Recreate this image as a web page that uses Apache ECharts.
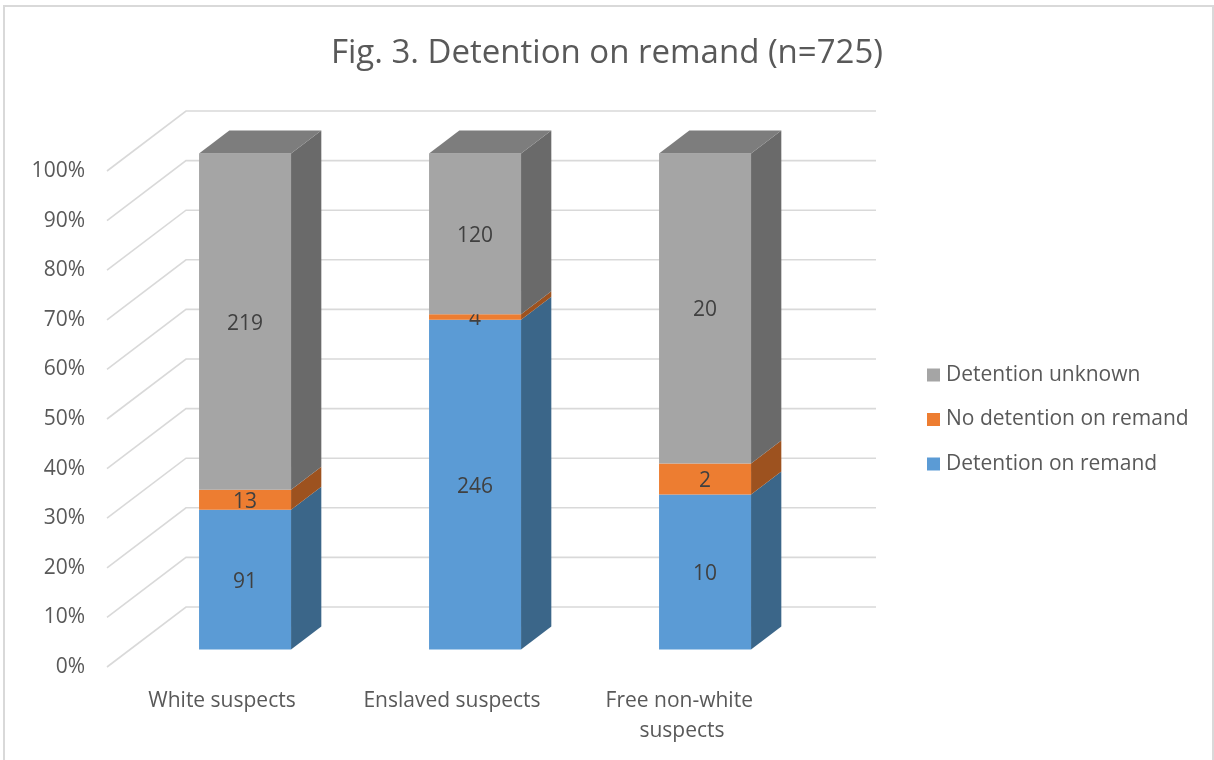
<!DOCTYPE html>
<html>
<head>
<meta charset="utf-8">
<title>Fig. 3. Detention on remand (n=725)</title>
<script src="https://cdn.jsdelivr.net/npm/echarts@6.0.0/dist/echarts.min.js"></script>
<style>
  html, body { margin: 0; padding: 0; background: #ffffff; }
  #chart { width: 1214px; height: 760px; }
</style>
</head>
<body>
<div id="chart"></div>
<script>
// ---- data ----
const categories = ['White suspects', 'Enslaved suspects', 'Free non-white suspects'];
const detained = [91, 246, 10];
const notDetained = [13, 4, 2];
const unknown = [219, 120, 20];
const yTicks = [0, 10, 20, 30, 40, 50, 60, 70, 80, 90, 100];

const seriesNames = ['Detention on remand', 'No detention on remand', 'Detention unknown'];
const seriesCounts = [detained, notDetained, unknown];

// front / side / top shades of each stack layer
const faceColors = [
  { front: '#5b9bd5', side: '#3b6689', top: '#4a7fae' },
  { front: '#ed7d31', side: '#9d521f', top: '#c26528' },
  { front: '#a5a5a5', side: '#6a6a6a', top: '#7d7d7d' }
];

const FONT = '"Open Sans", "Noto Sans", sans-serif';
const TEXT_GREY = '#595959';

// ---- pseudo-3D geometry (depth measured as upward pixel shift) ----
const WALL_DEPTH = 60;       // back wall sits this far behind the floor's front edge
const SLANT = 79 / 60;       // horizontal shift per pixel of depth
const BAR_FRONT = 17.5;      // depth of the columns' front faces
const BAR_BACK = 40.5;       // depth of the columns' back faces
const BAR_RATIO = 0.4;       // column width as a share of the category band

function shift(pt, d) {
  return [pt[0] + d * SLANT, pt[1] - d];
}

// cumulative percentage stacks
const totals = categories.map((_, i) => seriesCounts.reduce((s, arr) => s + arr[i], 0));
const stackData = seriesCounts.map((arr, k) =>
  arr.map((count, i) => {
    let lo = 0;
    for (let j = 0; j < k; j++) lo += seriesCounts[j][i];
    const hi = lo + count;
    return [i, lo / totals[i] * 100, hi / totals[i] * 100, count, k === seriesCounts.length - 1 ? 1 : 0];
  })
);

function makeSegmentRenderer(colors) {
  return function (params, api) {
    const cat = api.value(0);
    const lo = api.value(1);
    const hi = api.value(2);
    const count = api.value(3);
    const isTop = api.value(4);
    const band = api.size([1, 0])[0];
    const w = band * BAR_RATIO;
    const base = api.coord([cat, lo]);
    const peak = api.coord([cat, hi]);
    const xL = base[0] - w / 2 + BAR_FRONT * SLANT;
    const xR = xL + w;
    const yB = base[1] - BAR_FRONT;
    const yT = peak[1] - BAR_FRONT;
    const dd = BAR_BACK - BAR_FRONT;
    const dx = dd * SLANT;

    const children = [
      {
        type: 'polygon',
        shape: { points: [[xR, yB], [xR + dx, yB - dd], [xR + dx, yT - dd], [xR, yT]] },
        style: { fill: colors.side }
      },
      {
        type: 'rect',
        shape: { x: xL, y: yT, width: w, height: yB - yT },
        style: { fill: colors.front }
      }
    ];
    if (isTop) {
      children.push({
        type: 'polygon',
        shape: { points: [[xL, yT], [xR, yT], [xR + dx, yT - dd], [xL + dx, yT - dd]] },
        style: { fill: colors.top }
      });
    }
    children.push({
      type: 'text',
      style: {
        text: String(count),
        x: (xL + xR) / 2,
        y: (yB + yT) / 2 + 2,
        align: 'center',
        verticalAlign: 'middle',
        fill: '#404040',
        fontSize: 21,
        fontFamily: FONT
      }
    });
    return { type: 'group', children: children };
  };
}

// back-wall and side-wall gridlines
function renderGridline(params, api) {
  const cs = params.coordSys;
  const y = api.coord([0, api.value(1)])[1];
  const x0 = cs.x;
  const x1 = cs.x + cs.width;
  const backLeft = shift([x0, y], WALL_DEPTH);
  const backRight = shift([x1, y], WALL_DEPTH);
  return {
    type: 'polyline',
    shape: { points: [[x0, y], backLeft, backRight] },
    style: { stroke: '#d9d9d9', lineWidth: 1.6, fill: null },
    silent: true
  };
}

const series = [
  {
    name: 'gridlines',
    type: 'custom',
    renderItem: renderGridline,
    data: yTicks.map(v => [0, v]),
    silent: true,
    z: 1
  }
];
stackData.forEach((data, k) => {
  series.push({
    name: seriesNames[k],
    type: 'custom',
    renderItem: makeSegmentRenderer(faceColors[k]),
    itemStyle: { color: faceColors[k].front },
    encode: { x: 0, y: [1, 2] },
    data: data,
    z: 2 + k
  });
});

const chart = echarts.init(document.getElementById('chart'), null, { renderer: 'canvas' });
chart.setOption({
  animation: false,
  backgroundColor: '#ffffff',
  graphic: [
    {
      type: 'rect',
      shape: { x: 4, y: 6, width: 1209, height: 760 },
      style: { fill: null, stroke: '#d9d9d9', lineWidth: 2 },
      silent: true,
      z: 0
    }
  ],
  title: {
    text: 'Fig. 3. Detention on remand (n=725)',
    left: 'center',
    top: 32,
    textStyle: { fontFamily: FONT, fontSize: 33, fontWeight: 'normal', color: TEXT_GREY }
  },
  legend: {
    orient: 'vertical',
    left: 927,
    top: 364.5,
    padding: 0,
    itemWidth: 13,
    itemHeight: 13,
    itemGap: 23.5,
    icon: 'rect',
    data: ['Detention unknown', 'No detention on remand', 'Detention on remand'],
    textStyle: { fontFamily: FONT, fontSize: 21, lineHeight: 21, color: TEXT_GREY, padding: [0, 0, 0, 1] }
  },
  grid: { left: 107, right: 417, top: 171, bottom: 93, containLabel: false },
  xAxis: {
    type: 'category',
    data: categories,
    axisLine: { show: false },
    axisTick: { show: false },
    splitLine: { show: false },
    axisLabel: {
      margin: 19,
      fontFamily: FONT,
      fontSize: 21,
      lineHeight: 30,
      color: TEXT_GREY,
      width: 195,
      overflow: 'break',
      interval: 0
    }
  },
  yAxis: {
    type: 'value',
    min: 0,
    max: 100,
    interval: 10,
    axisLine: { show: false },
    axisTick: { show: false },
    splitLine: { show: false },
    axisLabel: {
      formatter: '{value}%',
      margin: 22,
      padding: [5, 0, 0, 0],
      fontFamily: FONT,
      fontSize: 21,
      color: TEXT_GREY
    }
  },
  series: series
});
</script>
</body>
</html>
